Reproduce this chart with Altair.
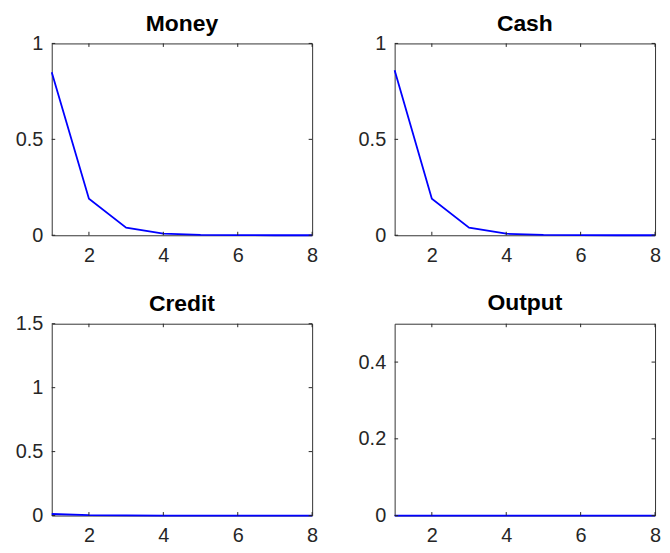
import altair as alt
import pandas as pd

periods = [1, 2, 3, 4, 5, 6, 7, 8]
money = [0.85, 0.19, 0.04, 0.008, 0.002, 0.0005, 0.0001, 0.0]
cash = [0.86, 0.19, 0.04, 0.008, 0.002, 0.0005, 0.0001, 0.0]
credit = [0.012, 0.003, 0.001, 0.0, 0.0, 0.0, 0.0, 0.0]
output = [0.0, 0.0, 0.0, 0.0, 0.0, 0.0, 0.0, 0.0]

titles = ["Money", "Cash", "Credit", "Output"]
series = [money, cash, credit, output]
y_domains = [[0, 1], [0, 1], [0, 1.5], [0, 0.5]]
y_ticks = [[0, 0.5, 1], [0, 0.5, 1], [0, 0.5, 1, 1.5], [0, 0.2, 0.4]]
x_domain = [1, 8]
x_ticks = [2, 4, 6, 8]

W, H = 262, 193
TL = 3.5
AX = "#262626"
FONT = "Liberation Sans"
LFS = 20
TFS = 23


def panel(title, vals, ydom, yt):
    df = pd.DataFrame({"t": periods, "v": vals})
    xs = alt.Scale(domain=x_domain, nice=False, zero=False)
    ys = alt.Scale(domain=ydom, nice=False, zero=False)
    xaxis = alt.Axis(values=x_ticks, format="~g", title=None, labelPadding=10)
    yaxis = alt.Axis(values=yt, format="~g", title=None, labelPadding=9)
    line = alt.Chart(df).mark_line(color="#0000ff", strokeWidth=1.8).encode(
        x=alt.X("t:Q", scale=xs, axis=xaxis),
        y=alt.Y("v:Q", scale=ys, axis=yaxis),
    )
    xt = pd.DataFrame({"tx": x_ticks})
    yt_df = pd.DataFrame({"ty": yt})
    tick_style = dict(color=AX, strokeWidth=1)
    top = alt.Chart(xt).mark_rule(**tick_style).encode(
        x=alt.X("tx:Q", scale=xs, axis=xaxis), y=alt.value(0), y2=alt.value(TL))
    bot = alt.Chart(xt).mark_rule(**tick_style).encode(
        x=alt.X("tx:Q", scale=xs, axis=xaxis), y=alt.value(H), y2=alt.value(H - TL))
    left = alt.Chart(yt_df).mark_rule(**tick_style).encode(
        y=alt.Y("ty:Q", scale=ys, axis=yaxis), x=alt.value(0), x2=alt.value(TL))
    right = alt.Chart(yt_df).mark_rule(**tick_style).encode(
        y=alt.Y("ty:Q", scale=ys, axis=yaxis), x=alt.value(W), x2=alt.value(W - TL))
    off = -2 if yt[-1] == ydom[1] else 8
    return alt.layer(line, top, bot, left, right).properties(
        width=W, height=H,
        title=alt.TitleParams(title, fontSize=TFS, fontWeight="bold", font=FONT,
                              color="black", offset=off),
    )


panels = [panel(t, s, d, k) for t, s, d, k in zip(titles, series, y_domains, y_ticks)]

chart = alt.concat(*panels, columns=2, spacing=alt.RowColnumber(row=89, column=83),
                   bounds="flush").configure_view(
    stroke="#333333", strokeWidth=1
).configure_axis(
    grid=False, ticks=False, domain=False, labelFontSize=LFS, labelColor=AX,
    labelFont=FONT, labelFlush=False
).properties(background="white", padding={"left": 6, "top": 2, "right": 0, "bottom": 0})

chart.save("out.html", embed_options={"renderer": "svg", "actions": False})
